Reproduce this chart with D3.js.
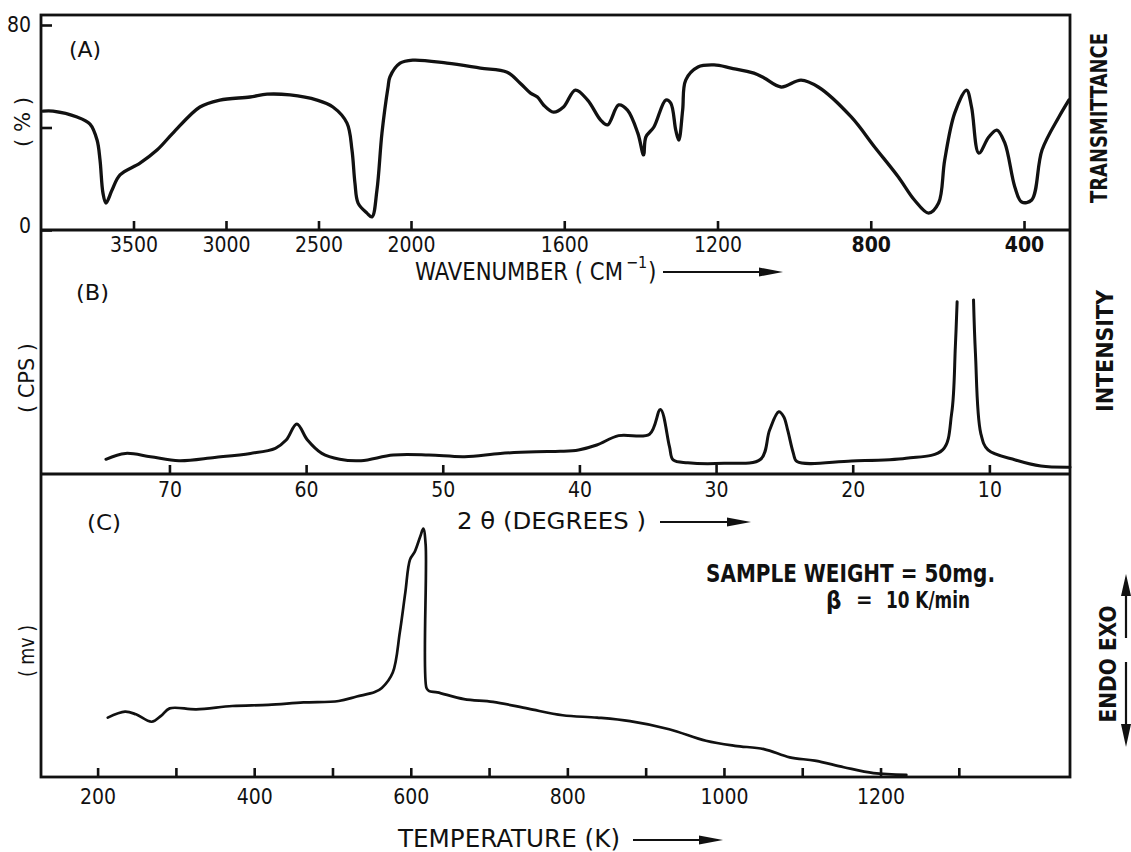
<!DOCTYPE html>
<html>
<head>
<meta charset="utf-8">
<script src="https://cdn.jsdelivr.net/npm/d3@7"></script>
<style>
  body { margin: 0; background: #fff; }
  svg { display: block; }
  text { font-family: "DejaVu Sans Condensed", "DejaVu Sans", sans-serif; font-stretch: condensed; fill: #111; }
</style>
</head>
<body>
<svg width="1131" height="852"></svg>
<script>
// (A) IR spectrum
var irWavenumber = [3989, 3935, 3805, 3735, 3697, 3681, 3665, 3649, 3616, 3573, 3465, 3373, 3287, 3141, 3033,
  2870, 2778, 2654, 2508, 2422, 2346, 2319, 2303, 2286, 2238, 2211, 2184, 2157, 2124, 2114, 2059,
  1995, 1906, 1819, 1749, 1715, 1688, 1670, 1654, 1628, 1602, 1571, 1539, 1505, 1487, 1458, 1435,
  1408, 1393, 1387, 1366, 1335, 1322, 1309, 1301, 1291, 1283, 1251, 1209, 1165, 1105, 1078, 1034,
  982, 937, 851, 790, 728, 686, 649, 623, 607, 581, 550, 537, 518, 492, 471, 450, 424, 406, 380,
  353, 309, 283];
var irTransmittance = [46.4, 46.4, 44.1, 41.3, 35.1, 27.3, 14.4, 10.5, 15.6, 21.5, 26.1, 31.2, 37.8, 48.0, 50.7,
  51.9, 53.0, 52.7, 50.7, 48.0, 41.7, 31.2, 18.3, 10.5, 6.6, 5.1, 15.6, 37.8, 55.8, 59.7, 65.1,
  66.3, 65.1, 63.2, 61.6, 57.3, 53.4, 51.9, 48.8, 46.0, 48.0, 54.6, 50.7, 42.9, 41.0, 48.8, 46.8,
  37.8, 29.3, 36.3, 40.2, 50.7, 49.5, 39.0, 35.1, 46.8, 58.5, 63.6, 64.4, 63.2, 61.2, 59.3, 55.8,
  58.5, 55.8, 44.1, 32.4, 20.7, 11.7, 6.6, 10.5, 27.3, 45.6, 54.6, 48.0, 30.0, 36.3, 39.0, 33.9, 16.8, 10.9, 11.7,
  31.2, 44.1, 50.7];
var irTicks = [3500, 3000, 2500, 2000, 1600, 1200, 800, 400];
var irYTicks = [0, 40, 80];

// (B) XRD pattern (null = pen off scale)
var xrdAngle = [74.65, 73.22, 71.39, 69.30, 66.69, 64.07, 62.25, 61.46, 60.68, 59.90, 58.85, 57.54, 55.98,
  53.62, 51.01, 48.40, 45.79, 43.17, 41.40, 40.07, 38.73, 37.13, 34.87, 34.07, 33.41, 33.14, 32.07,
  29.41, 26.74, 26.08, 25.41, 25.05, 24.75, 24.35, 24.08, 20.09, 16.09, 13.42, 12.76, 12.49, 12.36, 11.8,
  11.16, 11.02, 10.63, 10.10, 8.10, 6.23, 4.10];
var xrdIntensity = [6.3, 8.8, 7.4, 5.7, 7.1, 8.8, 11.0, 14.5, 21.4, 14.5, 8.8, 6.3, 5.7,
  8.1, 8.1, 7.4, 8.8, 9.5, 9.7, 10.3, 12.4, 16.4, 17.0, 27.6, 11.7, 6.0, 4.8,
  4.6, 6.3, 18.8, 26.6, 24.5, 18.5, 9.0, 5.3, 5.6, 6.7, 10.3, 25.9, 54.4, 73.6, null,
  74.4, 51.6, 17.4, 10.3, 6.0, 3.4, 2.9];
var xrdTicks = [70, 60, 50, 40, 30, 20, 10];

// (C) DTA curve
var dtaTemperature = [213, 235, 249, 269, 281, 292, 326, 372, 418, 463, 508, 531, 554, 563, 577, 586,
  593, 599, 605, 612, 616, 619, 620, 623, 634, 668, 705, 750, 794, 838, 880, 930, 977, 1014,
  1051, 1084, 1116, 1153, 1191, 1233];
var dtaSignal = [20.0, 22.0, 21.1, 18.6, 20.6, 23.1, 22.8, 23.9, 24.3, 25.1, 25.6, 27.1, 28.6, 30.0, 35.2, 48.7,
  62.1, 73.2, 75.8, 80.9, 83.6, 78.2, 30.0, 29.0, 28.5, 26.2, 25.3, 23.0, 20.8, 20.0, 18.8, 16.1, 12.2, 10.5,
  9.4, 6.6, 5.5, 3.3, 1.3, 0.7];
var dtaTicks = [200, 300, 400, 500, 600, 700, 800, 900, 1000, 1100, 1200, 1300];

var svg = d3.select("svg");
var frameL = 41, frameR = 1070, frameT = 15;
var axisA = 230, axisB = 474, axisC = 777;

var xA = d3.scaleLinear().domain([4000, 2000, 280]).range([frameL, 411, frameR]);
var yA = d3.scaleLinear().domain([0, 80]).range([axisA, 25]);
var xB = d3.scaleLinear().domain([79.4, 4.1]).range([frameL, frameR]);
var yB = d3.scaleLinear().domain([0, 100]).range([axisB, 240]);
var xC = d3.scaleLinear().domain([127.7, 1442]).range([frameL, frameR]);
var yC = d3.scaleLinear().domain([0, 100]).range([axisC, 480]);

function drawCurve(xs, ys, sx, sy, w) {
  var pts = xs.map(function(d, i) { return [d, ys[i]]; });
  var line = d3.line()
      .defined(function(d) { return d[1] != null; })
      .x(function(d) { return sx(d[0]); })
      .y(function(d) { return sy(d[1]); })
      .curve(d3.curveCatmullRom.alpha(0.5));
  svg.append("path")
      .attr("d", line(pts))
      .attr("fill", "none")
      .attr("stroke", "#111")
      .attr("stroke-width", w)
      .attr("stroke-linejoin", "round")
      .attr("stroke-linecap", "round");
}

function bottomAxis(scale, ticks, y, pad, fmt) {
  var g = svg.append("g")
      .attr("transform", "translate(0," + y + ")")
      .call(d3.axisBottom(scale).tickValues(ticks).tickSize(-9).tickSizeOuter(0).tickPadding(pad)
        .tickFormat(fmt || function(d) { return d; }));
  g.select(".domain").remove();
  g.selectAll(".tick line").attr("stroke", "#111").attr("stroke-width", 2.6);
  g.selectAll(".tick text").style("font-size", "21px").attr("fill", "#111");
  return g;
}

// frame and panel axes
svg.append("rect").attr("x", frameL).attr("y", frameT).attr("width", frameR - frameL).attr("height", axisC - frameT)
    .attr("fill", "none").attr("stroke", "#111").attr("stroke-width", 2.8);
[axisA, axisB].forEach(function(y) {
  svg.append("line").attr("x1", frameL).attr("x2", frameR).attr("y1", y).attr("y2", y)
      .attr("stroke", "#111").attr("stroke-width", 2.8);
});

var gA = bottomAxis(xA, irTicks, axisA, 7);
gA.selectAll(".tick text").filter(function(d) { return d <= 800; }).style("font-weight", "bold");
bottomAxis(xB, xrdTicks, axisB, 8);
bottomAxis(xC, dtaTicks, axisC, 12, function(d) { return d % 200 === 0 ? d : ""; });

var gy = svg.append("g").attr("transform", "translate(" + frameL + ",0)")
    .call(d3.axisLeft(yA).tickValues(irYTicks).tickSize(-11).tickSizeOuter(0).tickPadding(10)
      .tickFormat(function(d) { return d === 40 ? "" : d; }));
gy.select(".domain").remove();
gy.selectAll(".tick line").attr("stroke", "#111").attr("stroke-width", 2.6);
gy.selectAll(".tick text").style("font-size", "21px");
gy.selectAll(".tick text").filter(function(d) { return d === 0; }).attr("dy", "0.1em");

drawCurve(irWavenumber, irTransmittance, xA, yA, 3.3);
drawCurve(xrdAngle, xrdIntensity, xB, yB, 3);
drawCurve(dtaTemperature, dtaSignal, xC, yC, 2.7);

// text
function label(t, x, y, size, opts) {
  opts = opts || {};
  var el = svg.append("text").attr("x", x).attr("y", y).style("font-size", size + "px").text(t);
  if (opts.weight) el.style("font-weight", opts.weight);
  if (opts.len) el.attr("textLength", opts.len).attr("lengthAdjust", "spacingAndGlyphs");
  if (opts.anchor) el.attr("text-anchor", opts.anchor);
  return el;
}
function vlabel(t, x, yc, size, len, weight) {
  svg.append("text")
      .attr("transform", "translate(" + x + "," + yc + ") rotate(-90)")
      .attr("text-anchor", "middle")
      .attr("textLength", len).attr("lengthAdjust", "spacingAndGlyphs")
      .style("font-size", size + "px").style("font-weight", weight || "normal")
      .text(t);
}
function arrow(x1, x2, y) {
  svg.append("line").attr("x1", x1).attr("x2", x2 - 18).attr("y1", y).attr("y2", y)
      .attr("stroke", "#111").attr("stroke-width", 2.2);
  svg.append("path").attr("d", "M" + (x2 - 24) + "," + (y - 4.5) + "L" + x2 + "," + y + "L" + (x2 - 24) + "," + (y + 4.5) + "Z")
      .attr("fill", "#111");
}

label("(A)", 69, 57, 22, {len: 32});
label("(B)", 76, 300, 22, {len: 33});
label("(C)", 87, 530, 22, {len: 34});

label("WAVENUMBER ( CM", 415, 280, 24, {len: 208});
svg.append("text").attr("x", 626).attr("y", 268).style("font-size", "16px").text("−1");
label(")", 648, 280, 24);
arrow(663, 783, 272);

label("2 θ  (DEGREES )", 457, 529, 23, {len: 189});
arrow(660, 751, 522);

label("TEMPERATURE  (K)", 398, 847, 24, {len: 222});
arrow(633, 723, 840);

label("SAMPLE WEIGHT = 50mg.", 706, 582, 24, {len: 289, weight: "bold"});
label("β", 826, 609, 24, {weight: "bold"});
label("=", 856, 607, 22, {weight: "bold"});
label("10 K/min", 886, 608, 23, {len: 84, weight: "bold"});

vlabel("( % )", 30, 122, 21, 50);
vlabel("( CPS )", 34, 378, 21, 70);
vlabel("( mv )", 34, 651, 21, 52);

vlabel("TRANSMITTANCE", 1107, 118, 23, 170, "bold");
vlabel("INTENSITY", 1113, 351, 23, 122, "bold");
vlabel("ENDO  EXO", 1116, 664, 23, 117, "bold");

// exo / endo arrows
svg.append("line").attr("x1", 1126).attr("x2", 1126).attr("y1", 638).attr("y2", 590)
    .attr("stroke", "#111").attr("stroke-width", 2.2);
svg.append("path").attr("d", "M1121,596L1126,574L1131,596Z").attr("fill", "#111");
svg.append("line").attr("x1", 1126).attr("x2", 1126).attr("y1", 662).attr("y2", 730)
    .attr("stroke", "#111").attr("stroke-width", 2.2);
svg.append("path").attr("d", "M1121,724L1126,747L1131,724Z").attr("fill", "#111");
</script>
</body>
</html>
